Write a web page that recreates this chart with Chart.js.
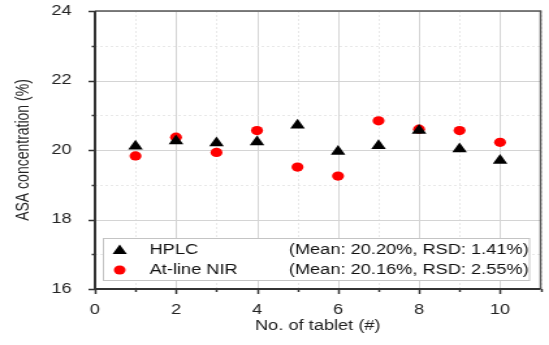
<!DOCTYPE html>
<html lang="en">
<head>
<meta charset="UTF-8">
<title>ASA concentration per tablet</title>
<script src="https://cdn.jsdelivr.net/npm/chart.js"></script>
<style>
    html, body { margin: 0; padding: 0; background: #fff; overflow: hidden; }
    /* the source figure is stretched sideways, so draw it narrow and widen it */
    #wrap { width: 422px; height: 345px; transform: scaleX(1.301); transform-origin: 0 0; }
</style>
</head>
<body>
<div id="wrap"><canvas id="chart" width="422" height="345"></canvas></div>
<script>
// data
var tablets = [1, 2, 3, 4, 5, 6, 7, 8, 9, 10];
var hplc = [20.11, 20.26, 20.20, 20.23, 20.71, 19.96, 20.12, 20.56, 20.03, 19.70];
var nir = [19.83, 20.37, 19.93, 20.56, 19.51, 19.25, 20.84, 20.60, 20.56, 20.22];
var seriesNames = ['HPLC', 'At-line NIR'];
var legendStats = ['(Mean: 20.20%, RSD: 1.41%)', '(Mean: 20.16%, RSD: 2.55%)'];
var xRange = [0, 11];
var yRange = [16, 24];

Chart.defaults.font.family = '"Liberation Sans", Arial, sans-serif';
Chart.defaults.font.size = 14;
Chart.defaults.color = '#222';

function toPoints(values) {
    return tablets.map(function (t, i) { return { x: t, y: values[i] }; });
}

// grid, frame, tick marks and the boxed legend
var figurePlugin = {
    id: 'figure',
    beforeDatasetsDraw: function (chart) {
        var ctx = chart.ctx, a = chart.chartArea;
        ctx.save();
        ctx.lineWidth = 1;
        ['x', 'y'].forEach(function (id) {
            var s = chart.scales[id];
            s.ticks.forEach(function (t) {
                var p = Math.round(s.getPixelForValue(t.value)) + 0.5;
                var major = t.value % 2 === 0;
                ctx.strokeStyle = major ? '#d4d4d4' : '#e8e8e8';
                ctx.setLineDash(major ? [] : [2, 2]);
                ctx.beginPath();
                if (id === 'x') { ctx.moveTo(p, a.top); ctx.lineTo(p, a.bottom); }
                else { ctx.moveTo(a.left, p); ctx.lineTo(a.right, p); }
                ctx.stroke();
            });
        });
        ctx.restore();
    },
    afterDatasetsDraw: function (chart) {
        var ctx = chart.ctx, a = chart.chartArea;
        var left = a.left + 6, right = a.right - 9, bottom = a.bottom - 9, top = bottom - 42;
        ctx.save();
        ctx.fillStyle = '#fff';
        ctx.fillRect(left, top, right - left, bottom - top);
        ctx.strokeStyle = '#c4c4c4';
        ctx.lineWidth = 1;
        ctx.strokeRect(left + 0.5, top + 0.5, right - left, bottom - top);
        ctx.textBaseline = 'middle';
        chart.data.datasets.forEach(function (ds, i) {
            var y = top + 12 + i * 20;
            var x = left + 13;
            ctx.fillStyle = ds.backgroundColor;
            ctx.beginPath();
            if (ds.pointStyle === 'triangle') {
                ctx.moveTo(x, y - 5.5);
                ctx.lineTo(x + 5.5, y + 4);
                ctx.lineTo(x - 5.5, y + 4);
                ctx.closePath();
            } else {
                ctx.arc(x, y, 4.5, 0, Math.PI * 2);
            }
            ctx.fill();
            ctx.fillStyle = '#111';
            ctx.fillText(ds.label, left + 36, y);
            ctx.fillText(legendStats[i], left + 143, y);
        });
        ctx.restore();
    },
    afterDraw: function (chart) {
        var ctx = chart.ctx, a = chart.chartArea;
        var xs = chart.scales.x, ys = chart.scales.y;
        ctx.save();
        ctx.strokeStyle = '#333';
        ctx.lineWidth = 1.5;
        ys.ticks.forEach(function (t) {
            var p = Math.round(ys.getPixelForValue(t.value)) + 0.5;
            var len = t.value % 2 === 0 ? 5 : 2.5;
            ctx.beginPath(); ctx.moveTo(a.left - len, p); ctx.lineTo(a.left, p); ctx.stroke();
        });
        xs.ticks.forEach(function (t) {
            var p = Math.round(xs.getPixelForValue(t.value)) + 0.5;
            var len = t.value % 2 === 0 ? 5 : 3;
            ctx.beginPath(); ctx.moveTo(p, a.bottom); ctx.lineTo(p, a.bottom + len); ctx.stroke();
        });
        ctx.strokeStyle = '#555';
        ctx.beginPath();
        ctx.moveTo(a.left, a.top); ctx.lineTo(a.right, a.top); ctx.lineTo(a.right, a.bottom);
        ctx.stroke();
        ctx.strokeStyle = '#333';
        ctx.lineWidth = 2;
        ctx.beginPath();
        ctx.moveTo(a.left, a.top); ctx.lineTo(a.left, a.bottom); ctx.lineTo(a.right, a.bottom);
        ctx.stroke();
        ctx.restore();
    }
};

var ctx = document.getElementById('chart').getContext('2d');
var chart = new Chart(ctx, {
    type: 'scatter',
    data: {
        datasets: [{
            label: seriesNames[0],
            data: toPoints(hplc),
            pointStyle: 'triangle',
            pointRadius: 6.5,
            backgroundColor: '#000',
            borderColor: '#000',
            borderWidth: 0
        }, {
            label: seriesNames[1],
            data: toPoints(nir),
            pointStyle: 'circle',
            pointRadius: 4.6,
            backgroundColor: '#ff0000',
            borderColor: '#ff0000',
            borderWidth: 0
        }]
    },
    options: {
        responsive: false,
        animation: false,
        devicePixelRatio: 1,
        layout: { padding: { top: 11, right: 1, left: 0, bottom: 0 } },
        plugins: {
            legend: { display: false },
            tooltip: { enabled: false }
        },
        scales: {
            x: {
                type: 'linear',
                min: xRange[0],
                max: xRange[1],
                afterFit: function (scale) {
                    scale.height = 56;
                    scale.paddingLeft = 0; scale.paddingRight = 0;
                    scale.paddingTop = 0; scale.paddingBottom = 0;
                },
                grid: { display: false },
                border: { display: false },
                ticks: {
                    stepSize: 1,
                    autoSkip: false,
                    maxRotation: 0,
                    padding: 5,
                    callback: function (v) { return v % 2 === 0 && v <= 10 ? v : ''; }
                },
                title: { display: true, text: 'No. of tablet (#)', padding: { top: 0, bottom: 10 } }
            },
            y: {
                type: 'linear',
                min: yRange[0],
                max: yRange[1],
                afterFit: function (scale) {
                    scale.width = 73;
                    scale.paddingLeft = 0; scale.paddingRight = 0;
                    scale.paddingTop = 0; scale.paddingBottom = 0;
                },
                grid: { display: false },
                border: { display: false },
                ticks: {
                    stepSize: 1,
                    autoSkip: false,
                    padding: 10,
                    callback: function (v) { return v % 2 === 0 ? v : ''; }
                },
                title: { display: true, text: 'ASA concentration (%)', padding: { top: 10, bottom: 0 } }
            }
        }
    },
    plugins: [figurePlugin]
});
</script>
</body>
</html>
